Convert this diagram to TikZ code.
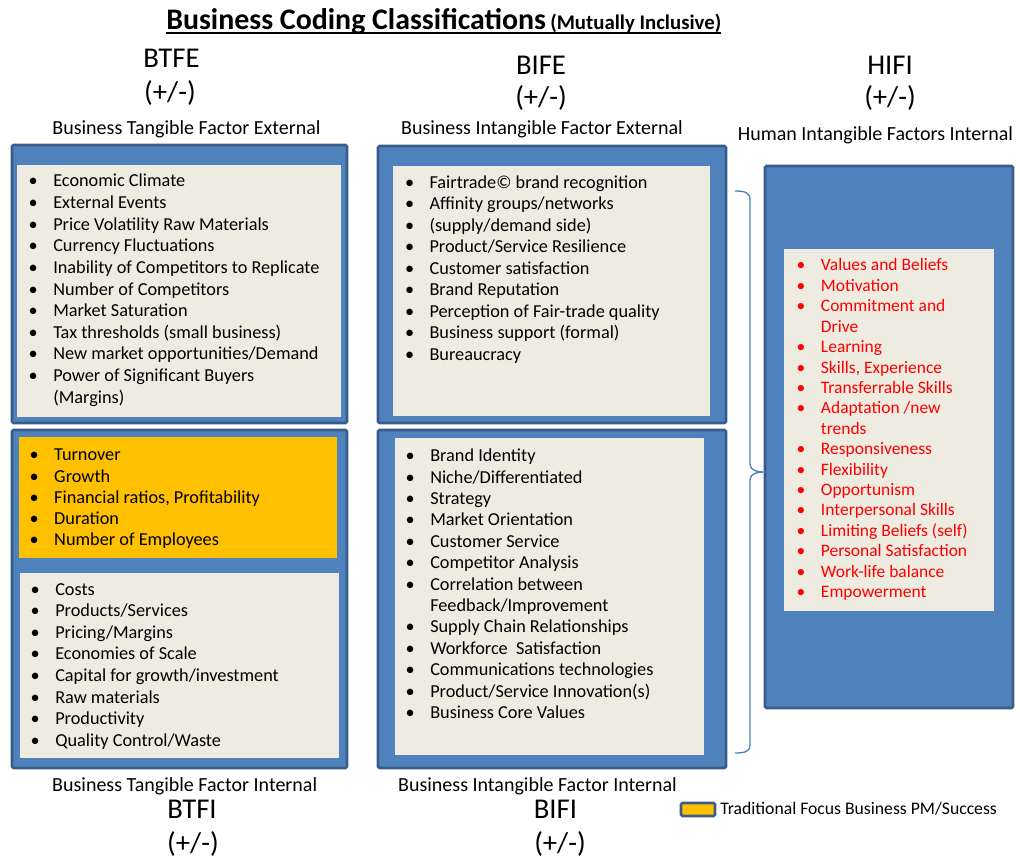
\documentclass[tikz,border=0pt]{standalone}
\usepackage{fontspec}
\setmainfont{Carlito}
\definecolor{boxblue}{HTML}{4F81BD}
\definecolor{boxedge}{HTML}{385D8A}
\definecolor{beige}{HTML}{EEECE1}
\definecolor{gold}{HTML}{FFC000}
\definecolor{redtxt}{HTML}{FF0000}
\newcommand{\bul}{\llap{\makebox[0pt][c]{\textbullet}\hspace{15pt}}}
\begin{document}
\begin{tikzpicture}[x=0.75pt,y=-0.75pt,
  outerbox/.style={fill=boxblue,draw=boxedge,line width=1.9pt,rounded corners=1pt},
  beigebox/.style={fill=beige,draw=none},
  goldbox/.style={fill=gold,draw=none},
  itemtxt/.style={anchor=base west,inner sep=0pt,font=\fontsize{13.7}{16}\selectfont},
  redtxt/.style={itemtxt,text=redtxt,font=\fontsize{13.1}{16}\selectfont},
  bigcode/.style={anchor=base,inner sep=0pt,font=\fontsize{21.5}{24}\selectfont},
  headtxt/.style={anchor=base,inner sep=0pt,font=\fontsize{15}{18}\selectfont},
  bracket/.style={draw=boxblue,line width=1pt}]
\useasboundingbox (0,0) rectangle (1020,859);

% title
\node[anchor=base west,inner sep=0pt,font=\fontsize{22.4}{26}\selectfont\bfseries] (title) at (166,30) {Business Coding Classifications};
\node[anchor=base west,inner sep=0pt,font=\fontsize{15.6}{18}\selectfont\bfseries] (subtitle) at (550,30) {(Mutually Inclusive)};
\draw[line width=1.5pt] ([yshift=-2.2pt]title.base west) -- ([yshift=-2.2pt]subtitle.base east);

% top headings
\node[bigcode] (btfe) at (171.5,68) {BTFE};
\node[bigcode] (btfepm) at (170,102) {(+/-)};
\node[headtxt] (btfeh) at (186.5,135) {Business Tangible Factor External};
\node[bigcode] (bife) at (541,75) {BIFE};
\node[bigcode] (bifepm) at (541,107) {(+/-)};
\node[headtxt] (bifeh) at (542,135) {Business Intangible Factor External};
\node[bigcode] (hifi) at (890,75) {HIFI};
\node[bigcode] (hifipm) at (890,107) {(+/-)};
\node[headtxt] (hifih) at (875.5,141) {Human Intangible Factors Internal};

% boxes
\draw[outerbox] (12,145) rectangle (347,423);
\draw[beigebox] (17,165) rectangle (341,417);
\draw[outerbox] (12,430) rectangle (347,768);
\draw[goldbox] (19,437) rectangle (337,558);
\draw[beigebox] (20,573) rectangle (339,758);
\draw[outerbox] (378,146) rectangle (726,423);
\draw[beigebox] (393,166) rectangle (710,416);
\draw[outerbox] (378,430) rectangle (726,768);
\draw[beigebox] (395,438) rectangle (704,755);
\draw[outerbox] (765,166) rectangle (1013,708);
\draw[beigebox] (784,249) rectangle (994,611);

% BTFE list
\foreach \t [count=\i from 0] in {{\bul Economic Climate},{\bul External Events},{\bul Price Volatility Raw Materials},{\bul Currency Fluctuations},{\bul Inability of Competitors to Replicate},{\bul Number of Competitors},{\bul Market Saturation},{\bul Tax thresholds (small business)},{\bul New market opportunities/Demand},{\bul Power of Significant Buyers},{(Margins)}}
  \node[itemtxt] (btfe-\i) at (53,187+21.6*\i) {\t};

% BTFI gold list
\foreach \t [count=\i from 0] in {{\bul Turnover},{\bul Growth},{\bul Financial ratios, Profitability},{\bul Duration},{\bul Number of Employees}}
  \node[itemtxt] (gold-\i) at (54,460.7+21.3*\i) {\t};

% BTFI list
\foreach \t [count=\i from 0] in {{\bul Costs},{\bul Products/Services},{\bul Pricing/Margins},{\bul Economies of Scale},{\bul Capital for growth/investment},{\bul Raw materials},{\bul Productivity},{\bul Quality Control/Waste}}
  \node[itemtxt] (btfi-\i) at (55,595+21.6*\i) {\t};

% BIFE list
\foreach \t [count=\i from 0] in {{\bul Fairtrade© brand recognition},{\bul Affinity groups/networks},{\bul (supply/demand side)},{\bul Product/Service Resilience},{\bul Customer satisfaction},{\bul Brand Reputation},{\bul Perception of Fair-trade quality},{\bul Business support (formal)},{\bul Bureaucracy}}
  \node[itemtxt] (bife-\i) at (429.3,188.3+21.5*\i) {\t};

% BIFI list
\foreach \t [count=\i from 0] in {{\bul Brand Identity},{\bul Niche/Differentiated},{\bul Strategy},{\bul Market Orientation},{\bul Customer Service},{\bul Competitor Analysis},{\bul Correlation between},{Feedback/Improvement},{\bul Supply Chain Relationships},{\bul Workforce\ \ Satisfaction},{\bul Communications technologies},{\bul Product/Service Innovation(s)},{\bul Business Core Values}}
  \node[itemtxt] (bifi-\i) at (430,461.7+21.4*\i) {\t};

% HIFI list
\foreach \t [count=\i from 0] in {{\bul Values and Beliefs},{\bul Motivation},{\bul Commitment and},{Drive},{\bul Learning},{\bul Skills, Experience},{\bul Transferrable Skills},{\bul Adaptation /new},{trends},{\bul Responsiveness},{\bul Flexibility},{\bul Opportunism},{\bul Interpersonal Skills},{\bul Limiting Beliefs (self)},{\bul Personal Satisfaction},{\bul Work-life balance},{\bul Empowerment}}
  \node[redtxt] (hifi-\i) at (820.7,271+20.4*\i) {\t};

% brace
\coordinate (brtop) at (735,191);
\coordinate (brtip) at (765,472);
\coordinate (brbot) at (735,753);
\draw[bracket] (brtop) .. controls (746,191) and (750,193) .. (750,200) -- (750,464)
  .. controls (750,470) and (756,472) .. (brtip)
  .. controls (756,472) and (750,474) .. (750,480) -- (750,745)
  .. controls (750,751) and (746,753) .. (brbot);

% bottom headings
\node[headtxt] (btfih) at (184.7,791.7) {Business Tangible Factor Internal};
\node[bigcode] (btfi) at (192,818) {BTFI};
\node[bigcode] (btfipm) at (193,852) {(+/-)};
\node[headtxt] (bifih) at (537.5,791.7) {Business Intangible Factor Internal};
\node[bigcode] (bifi) at (555.5,818) {BIFI};
\node[bigcode] (bifipm) at (560,852) {(+/-)};

% legend
\draw[fill=gold,draw=boxedge,line width=1.9pt,rounded corners=1pt] (681,803) rectangle (715,816);
\node[anchor=base west,inner sep=0pt,font=\fontsize{13.25}{16}\selectfont] (legend) at (720,814) {Traditional Focus Business PM/Success};
\end{tikzpicture}
\end{document}
